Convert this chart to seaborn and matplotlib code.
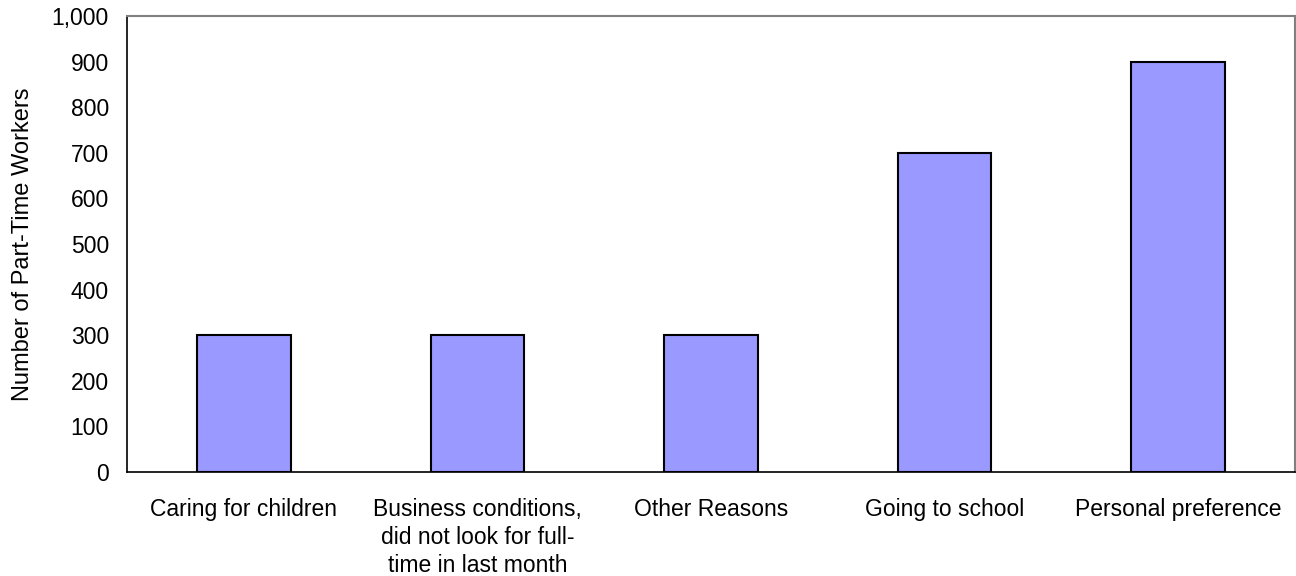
import matplotlib
matplotlib.use("Agg")
import matplotlib.pyplot as plt
import seaborn as sns
import pandas as pd
from matplotlib.ticker import FuncFormatter

reasons = [
    "Caring for children",
    "Business conditions,\ndid not look for full-\ntime in last month",
    "Other Reasons",
    "Going to school",
    "Personal preference",
]
workers = [300, 300, 300, 700, 900]

df = pd.DataFrame({"reason": reasons, "workers": workers})

sns.set_theme(style="white")
plt.rcParams["font.family"] = ["Liberation Sans", "DejaVu Sans"]
plt.rcParams["text.color"] = "black"
plt.rcParams["axes.labelcolor"] = "black"
plt.rcParams["xtick.color"] = "black"
plt.rcParams["ytick.color"] = "black"

fig = plt.figure(figsize=(12.96, 5.76), dpi=100)
ax = fig.add_axes([127 / 1296, 1 - 472 / 576, (1295 - 127) / 1296, (472 - 16) / 576])

sns.barplot(data=df, x="reason", y="workers", color="#9999FF", saturation=1,
            width=0.4, edgecolor="black", linewidth=1.5, ax=ax)

ax.set_ylim(0, 1000)
ax.set_xlim(-0.5, len(reasons) - 0.5)
ax.set_yticks(range(0, 1001, 100))
ax.yaxis.set_major_formatter(FuncFormatter(lambda v, p: f"{int(v):,}"))
ax.tick_params(axis="both", length=0, labelsize=16.5, labelcolor="black")
ax.tick_params(axis="y", pad=13)
ax.tick_params(axis="x", pad=19)
for lbl in ax.get_xticklabels():
    lbl.set_linespacing(1.28)
ax.set_xlabel("")
ax.set_ylabel("Number of Part-Time Workers", fontsize=17, labelpad=13, color="black")

for side in ["left", "bottom"]:
    ax.spines[side].set_color("black")
    ax.spines[side].set_linewidth(1.2)
for side in ["top", "right"]:
    ax.spines[side].set_color("#808080")
    ax.spines[side].set_linewidth(1.5)

fig.savefig("out.png", dpi=100)
